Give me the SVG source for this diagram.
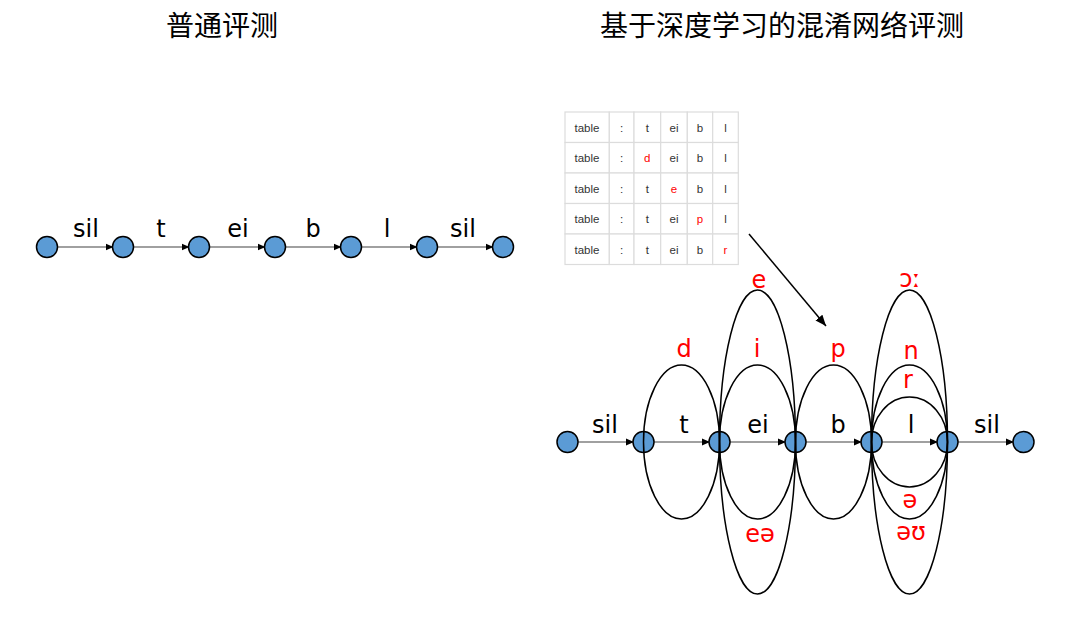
<svg xmlns="http://www.w3.org/2000/svg" width="1080" height="620" viewBox="0 0 1080 620">
<style>
.title{font-family:"Noto Sans CJK SC","Noto Sans",sans-serif;font-size:28px;fill:#000;text-anchor:middle}
.lbl{font-family:"DejaVu Sans","Noto Sans",sans-serif;font-size:24px;fill:#000;text-anchor:middle}
.alt{font-family:"DejaVu Sans","Noto Sans",sans-serif;font-size:24px;fill:#ff0000;text-anchor:middle}
.node{fill:#5b9bd5;stroke:#000;stroke-width:1.5}
.edge{stroke:#808080;stroke-width:1.5;fill:none;marker-end:url(#ah)}
.ell{fill:none;stroke:#000;stroke-width:1.5}
.cell{fill:#fff;stroke:#dcdcdc;stroke-width:1.2}
.tt{font-family:"Liberation Sans",Arial,sans-serif;font-size:11.5px;fill:#333;text-anchor:middle}
.tr{fill:#ff0000}
</style>
<defs>
<marker id="ah" markerWidth="8" markerHeight="8" refX="7" refY="4" orient="auto" markerUnits="userSpaceOnUse">
<path d="M0,0.5 L8,4 L0,7.5 Z" fill="#000"/>
</marker>
<marker id="ah2" markerWidth="12" markerHeight="10" refX="11" refY="5" orient="auto" markerUnits="userSpaceOnUse">
<path d="M0,0.5 L11,5 L0,9.5 Z" fill="#000"/>
</marker>
</defs>
<rect width="1080" height="620" fill="#fff"/>
<text class="title" x="222" y="36">普通评测</text>
<text class="title" x="782" y="36">基于深度学习的混淆网络评测</text>

<!-- left chain connectors -->
<g id="left-connectors">
<line class="edge" x1="57.5" y1="247" x2="112.5" y2="247"/>
<line class="edge" x1="133.5" y1="247" x2="188.5" y2="247"/>
<line class="edge" x1="209.5" y1="247" x2="264.5" y2="247"/>
<line class="edge" x1="285.5" y1="247" x2="340.5" y2="247"/>
<line class="edge" x1="361.5" y1="247" x2="416.5" y2="247"/>
<line class="edge" x1="437.5" y1="247" x2="492.5" y2="247"/>
<text class="lbl" x="86" y="237">sil</text>
<text class="lbl" x="161" y="237">t</text>
<text class="lbl" x="238" y="237">ei</text>
<text class="lbl" x="313" y="237">b</text>
<text class="lbl" x="387" y="237">l</text>
<text class="lbl" x="463" y="237">sil</text>
</g>
<g id="l0"><circle class="node" cx="47" cy="247" r="10.5"/></g>
<g id="l1"><circle class="node" cx="123" cy="247" r="10.5"/></g>
<g id="l2"><circle class="node" cx="199" cy="247" r="10.5"/></g>
<g id="l3"><circle class="node" cx="275" cy="247" r="10.5"/></g>
<g id="l4"><circle class="node" cx="351" cy="247" r="10.5"/></g>
<g id="l5"><circle class="node" cx="427" cy="247" r="10.5"/></g>
<g id="l6"><circle class="node" cx="503" cy="247" r="10.5"/></g>

<!-- table -->
<g id="table">
<g>
<rect class="cell" x="565" y="112" width="44.3" height="30.5"/><rect class="cell" x="609.3" y="112" width="24.7" height="30.5"/><rect class="cell" x="634" y="112" width="26.7" height="30.5"/><rect class="cell" x="660.7" y="112" width="26.6" height="30.5"/><rect class="cell" x="687.3" y="112" width="25.4" height="30.5"/><rect class="cell" x="712.7" y="112" width="25.6" height="30.5"/>
<rect class="cell" x="565" y="142.5" width="44.3" height="30.5"/><rect class="cell" x="609.3" y="142.5" width="24.7" height="30.5"/><rect class="cell" x="634" y="142.5" width="26.7" height="30.5"/><rect class="cell" x="660.7" y="142.5" width="26.6" height="30.5"/><rect class="cell" x="687.3" y="142.5" width="25.4" height="30.5"/><rect class="cell" x="712.7" y="142.5" width="25.6" height="30.5"/>
<rect class="cell" x="565" y="173" width="44.3" height="30.5"/><rect class="cell" x="609.3" y="173" width="24.7" height="30.5"/><rect class="cell" x="634" y="173" width="26.7" height="30.5"/><rect class="cell" x="660.7" y="173" width="26.6" height="30.5"/><rect class="cell" x="687.3" y="173" width="25.4" height="30.5"/><rect class="cell" x="712.7" y="173" width="25.6" height="30.5"/>
<rect class="cell" x="565" y="203.5" width="44.3" height="30.5"/><rect class="cell" x="609.3" y="203.5" width="24.7" height="30.5"/><rect class="cell" x="634" y="203.5" width="26.7" height="30.5"/><rect class="cell" x="660.7" y="203.5" width="26.6" height="30.5"/><rect class="cell" x="687.3" y="203.5" width="25.4" height="30.5"/><rect class="cell" x="712.7" y="203.5" width="25.6" height="30.5"/>
<rect class="cell" x="565" y="234" width="44.3" height="30.5"/><rect class="cell" x="609.3" y="234" width="24.7" height="30.5"/><rect class="cell" x="634" y="234" width="26.7" height="30.5"/><rect class="cell" x="660.7" y="234" width="26.6" height="30.5"/><rect class="cell" x="687.3" y="234" width="25.4" height="30.5"/><rect class="cell" x="712.7" y="234" width="25.6" height="30.5"/>
</g>
<g>
<text class="tt" x="587" y="131.5">table</text><text class="tt" x="621.6" y="131.5">:</text><text class="tt" x="647.3" y="131.5">t</text><text class="tt" x="674" y="131.5">ei</text><text class="tt" x="700" y="131.5">b</text><text class="tt" x="725.5" y="131.5">l</text>
<text class="tt" x="587" y="162">table</text><text class="tt" x="621.6" y="162">:</text><text class="tt tr" x="647.3" y="162">d</text><text class="tt" x="674" y="162">ei</text><text class="tt" x="700" y="162">b</text><text class="tt" x="725.5" y="162">l</text>
<text class="tt" x="587" y="192.5">table</text><text class="tt" x="621.6" y="192.5">:</text><text class="tt" x="647.3" y="192.5">t</text><text class="tt tr" x="674" y="192.5">e</text><text class="tt" x="700" y="192.5">b</text><text class="tt" x="725.5" y="192.5">l</text>
<text class="tt" x="587" y="223">table</text><text class="tt" x="621.6" y="223">:</text><text class="tt" x="647.3" y="223">t</text><text class="tt" x="674" y="223">ei</text><text class="tt tr" x="700" y="223">p</text><text class="tt" x="725.5" y="223">l</text>
<text class="tt" x="587" y="253.5">table</text><text class="tt" x="621.6" y="253.5">:</text><text class="tt" x="647.3" y="253.5">t</text><text class="tt" x="674" y="253.5">ei</text><text class="tt" x="700" y="253.5">b</text><text class="tt tr" x="725.5" y="253.5">r</text>
</g>
</g>

<!-- right chain connectors -->
<g id="right-connectors">
<line x1="749" y1="234" x2="826" y2="326" stroke="#000" stroke-width="1.5" marker-end="url(#ah2)"/>
<line class="edge" x1="578" y1="442" x2="633" y2="442"/>
<line class="edge" x1="654" y1="442" x2="709" y2="442"/>
<line class="edge" x1="730" y1="442" x2="785" y2="442"/>
<line class="edge" x1="806" y1="442" x2="861" y2="442"/>
<line class="edge" x1="882" y1="442" x2="937" y2="442"/>
<line class="edge" x1="958" y1="442" x2="1013" y2="442"/>
<text class="lbl" x="605" y="433">sil</text>
<text class="lbl" x="684" y="433">t</text>
<text class="lbl" x="758" y="433">ei</text>
<text class="lbl" x="838" y="433">b</text>
<text class="lbl" x="911" y="433">l</text>
<text class="lbl" x="987" y="433">sil</text>
</g>
<g id="r0"><circle class="node" cx="567.5" cy="442" r="10.5"/></g>
<g id="r1"><circle class="node" cx="643.5" cy="442" r="10.5"/></g>
<g id="r2"><circle class="node" cx="719.5" cy="442" r="10.5"/></g>
<g id="r3"><circle class="node" cx="795.5" cy="442" r="10.5"/></g>
<g id="r4"><circle class="node" cx="871.5" cy="442" r="10.5"/></g>
<g id="r5"><circle class="node" cx="947.5" cy="442" r="10.5"/></g>
<g id="r6"><circle class="node" cx="1023.5" cy="442" r="10.5"/></g>

<!-- confusion alternatives -->
<g id="alternatives">
<ellipse class="ell" cx="681.5" cy="442" rx="38" ry="77"/>
<ellipse class="ell" cx="757.5" cy="442" rx="38" ry="77"/>
<ellipse class="ell" cx="757.5" cy="442" rx="38" ry="152"/>
<ellipse class="ell" cx="833.5" cy="442" rx="38" ry="77"/>
<ellipse class="ell" cx="909.5" cy="442" rx="38" ry="45"/>
<ellipse class="ell" cx="909.5" cy="442" rx="38" ry="77"/>
<ellipse class="ell" cx="909.5" cy="442" rx="38" ry="152"/>
<text class="alt" x="684" y="357">d</text>
<text class="alt" x="759" y="288">e</text>
<text class="alt" x="757" y="357">i</text>
<text class="alt" x="760" y="542">eə</text>
<text class="alt" x="838" y="357">p</text>
<text class="alt" x="910" y="287">ɔː</text>
<text class="alt" x="911" y="359">n</text>
<text class="alt" x="908" y="388">r</text>
<text class="alt" x="910" y="508">ə</text>
<text class="alt" x="911" y="540">əʊ</text>
</g>
</svg>
